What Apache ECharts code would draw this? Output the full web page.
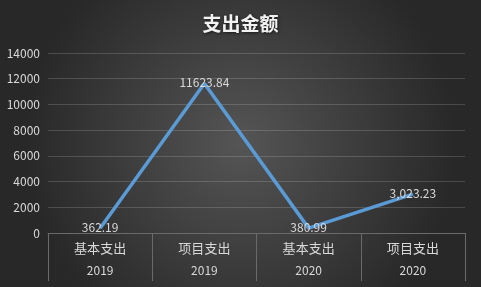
<!DOCTYPE html>
<html><head><meta charset="utf-8">
<script src="https://cdn.jsdelivr.net/npm/echarts@6/dist/echarts.min.js"></script>
<style>html,body{margin:0;padding:0;}#c{width:481px;height:287px;}</style>
</head><body><div id="c"></div>
<script>
const categories = ['基本支出', '项目支出', '基本支出', '项目支出'];
const years = ['2019', '2019', '2020', '2020'];
const values = [362.19, 11623.84, 380.99, 3023.23];
const valueLabels = ['362.19', '11623.84', '380.99', '3,023.23'];
const yTicks = { min: 0, max: 14000, interval: 2000 };

const chart = echarts.init(document.getElementById('c'));
chart.setOption({
  backgroundColor: {
    type: 'radial', x: 0.5, y: 0.5, r: 0.75,
    colorStops: [{ offset: 0, color: '#555555' }, { offset: 1, color: '#282828' }]
  },
  title: {
    text: '支出金额', left: 'center', top: 9,
    textStyle: { color: '#f2f2f2', fontSize: 19, fontWeight: 'bold', fontFamily: 'Noto Sans CJK SC',
      textShadowColor: 'rgba(0,0,0,0.6)', textShadowBlur: 3, textShadowOffsetX: 1, textShadowOffsetY: 1 }
  },
  grid: { left: 48, right: 16, top: 53, bottom: 54 },
  xAxis: {
    type: 'category',
    data: categories.map((c, i) => c + '\n' + years[i]),
    boundaryGap: true,
    axisLine: { lineStyle: { color: '#6a6a6a', width: 1 } },
    axisTick: { show: true, length: 48, lineStyle: { color: '#6a6a6a' } },
    axisLabel: {
      margin: 5, interval: 0,
      formatter: function (v) { const p = v.split('\n'); return '{a|' + p[0] + '}\n{b|' + p[1] + '}'; },
      rich: {
        a: { color: '#d9d9d9', fontSize: 13, fontFamily: 'Noto Sans CJK SC', lineHeight: 21 },
        b: { color: '#d9d9d9', fontSize: 12, fontFamily: 'Noto Sans CJK SC', lineHeight: 23 }
      }
    }
  },
  yAxis: {
    type: 'value', min: yTicks.min, max: yTicks.max, interval: yTicks.interval,
    axisLine: { show: false }, axisTick: { show: false },
    axisLabel: { color: '#d9d9d9', fontSize: 12, margin: 8, fontFamily: 'Noto Sans CJK SC',
      formatter: function (v) { return String(v); } },
    splitLine: { lineStyle: { color: 'rgba(255,255,255,0.16)', width: 1 } }
  },
  series: [{
    type: 'line', data: values, symbol: 'circle', symbolSize: 1, showSymbol: true,
    lineStyle: { color: '#5b9bd5', width: 3.5 },
    itemStyle: { color: '#5b9bd5' },
    label: {
      show: true, position: 'inside', offset: [0, -1],
      color: '#d9d9d9', fontSize: 12, fontFamily: 'Noto Sans CJK SC',
      formatter: function (p) { return valueLabels[p.dataIndex]; }
    },
    animation: false
  }],
  animation: false
});
</script>
</body></html>
